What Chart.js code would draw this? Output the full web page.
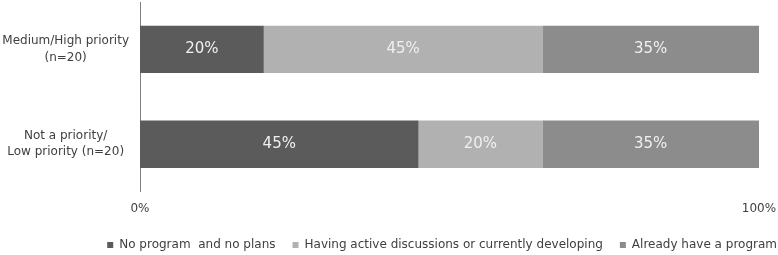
<!DOCTYPE html>
<html>
<head>
<meta charset="utf-8">
<script src="https://cdn.jsdelivr.net/npm/chart.js@4/dist/chart.umd.min.js"></script>
<style>
  body { margin: 0; background: #fff; }
  #wrap { width: 778px; height: 255px; }
</style>
</head>
<body>
<div id="wrap"><canvas id="grafico"></canvas></div>
<script>
// dados do grafico
var categorias = [["Medium/High priority", "(n=20)"], ["Not a priority/", "Low priority (n=20)"]];
var nomesSeries = ["No program  and no plans", "Having active discussions or currently developing", "Already have a program"];
var semPrograma = [20, 45];
var discutindo = [45, 20];
var jaTem = [35, 35];
var coresSeries = ["#5b5b5b", "#b1b1b1", "#8c8c8c"];

// escreve o valor no meio de cada barra
var rotulosBarras = {
  id: "rotulosBarras",
  afterDatasetsDraw: function (chart) {
    var ctx = chart.ctx;
    ctx.save();
    ctx.font = "15px 'DejaVu Sans'";
    ctx.fillStyle = "#f0f0f0";
    ctx.textAlign = "center";
    ctx.textBaseline = "middle";
    chart.data.datasets.forEach(function (ds, i) {
      var meta = chart.getDatasetMeta(i);
      meta.data.forEach(function (bar, j) {
        var centro = bar.getCenterPoint();
        ctx.fillText(ds.data[j] + "%", centro.x, centro.y);
      });
    });
    ctx.restore();
  }
};

// empurra a legenda pra direita (encosta na borda)
var ajusteLegenda = {
  id: "ajusteLegenda",
  afterLayout: function (chart) {
    var leg = chart.legend;
    leg.right += 35;
    leg.top -= 4;
    leg.bottom -= 4;
  }
};

var dados = {
  labels: categorias,
  datasets: [
    { label: nomesSeries[0], data: semPrograma, backgroundColor: coresSeries[0] },
    { label: nomesSeries[1], data: discutindo, backgroundColor: coresSeries[1] },
    { label: nomesSeries[2], data: jaTem, backgroundColor: coresSeries[2] }
  ]
};

const config = {
  type: "bar",
  data: dados,
  options: {
    indexAxis: "y",
    responsive: true,
    maintainAspectRatio: false,
    animation: false,
    layout: { padding: { top: 2, right: 19, bottom: 0, left: 0 } },
    datasets: { bar: { categoryPercentage: 1, barPercentage: 0.5 } },
    scales: {
      x: {
        stacked: true,
        min: 0,
        max: 100,
        grid: { display: false, drawTicks: false },
        border: { display: false },
        afterFit: function (scale) {
          scale.paddingLeft = 0;
          scale.paddingRight = 0;
        },
        ticks: {
          stepSize: 100,
          padding: 10,
          color: "#404040",
          font: { family: "DejaVu Sans", size: 12 },
          callback: function (v) { return v + "%"; }
        }
      },
      y: {
        stacked: true,
        grid: { display: false, drawTicks: false },
        border: { display: true, color: "#7f7f7f", width: 1 },
        afterFit: function (scale) {
          scale.width = 140;
          scale.paddingTop = 0;
          scale.paddingBottom = 0;
        },
        ticks: {
          padding: 11,
          crossAlign: "center",
          color: "#404040",
          font: { family: "DejaVu Sans", size: 12, lineHeight: 1.35 }
        }
      }
    },
    plugins: {
      tooltip: { enabled: false },
      legend: {
        position: "bottom",
        align: "end",
        maxHeight: 29,
        labels: {
          boxWidth: 6,
          boxHeight: 6,
          padding: 17,
          color: "#404040",
          font: { family: "DejaVu Sans", size: 12 }
        }
      }
    }
  },
  plugins: [rotulosBarras, ajusteLegenda]
};

let grafico = new Chart(document.getElementById("grafico"), config);
</script>
</body>
</html>
